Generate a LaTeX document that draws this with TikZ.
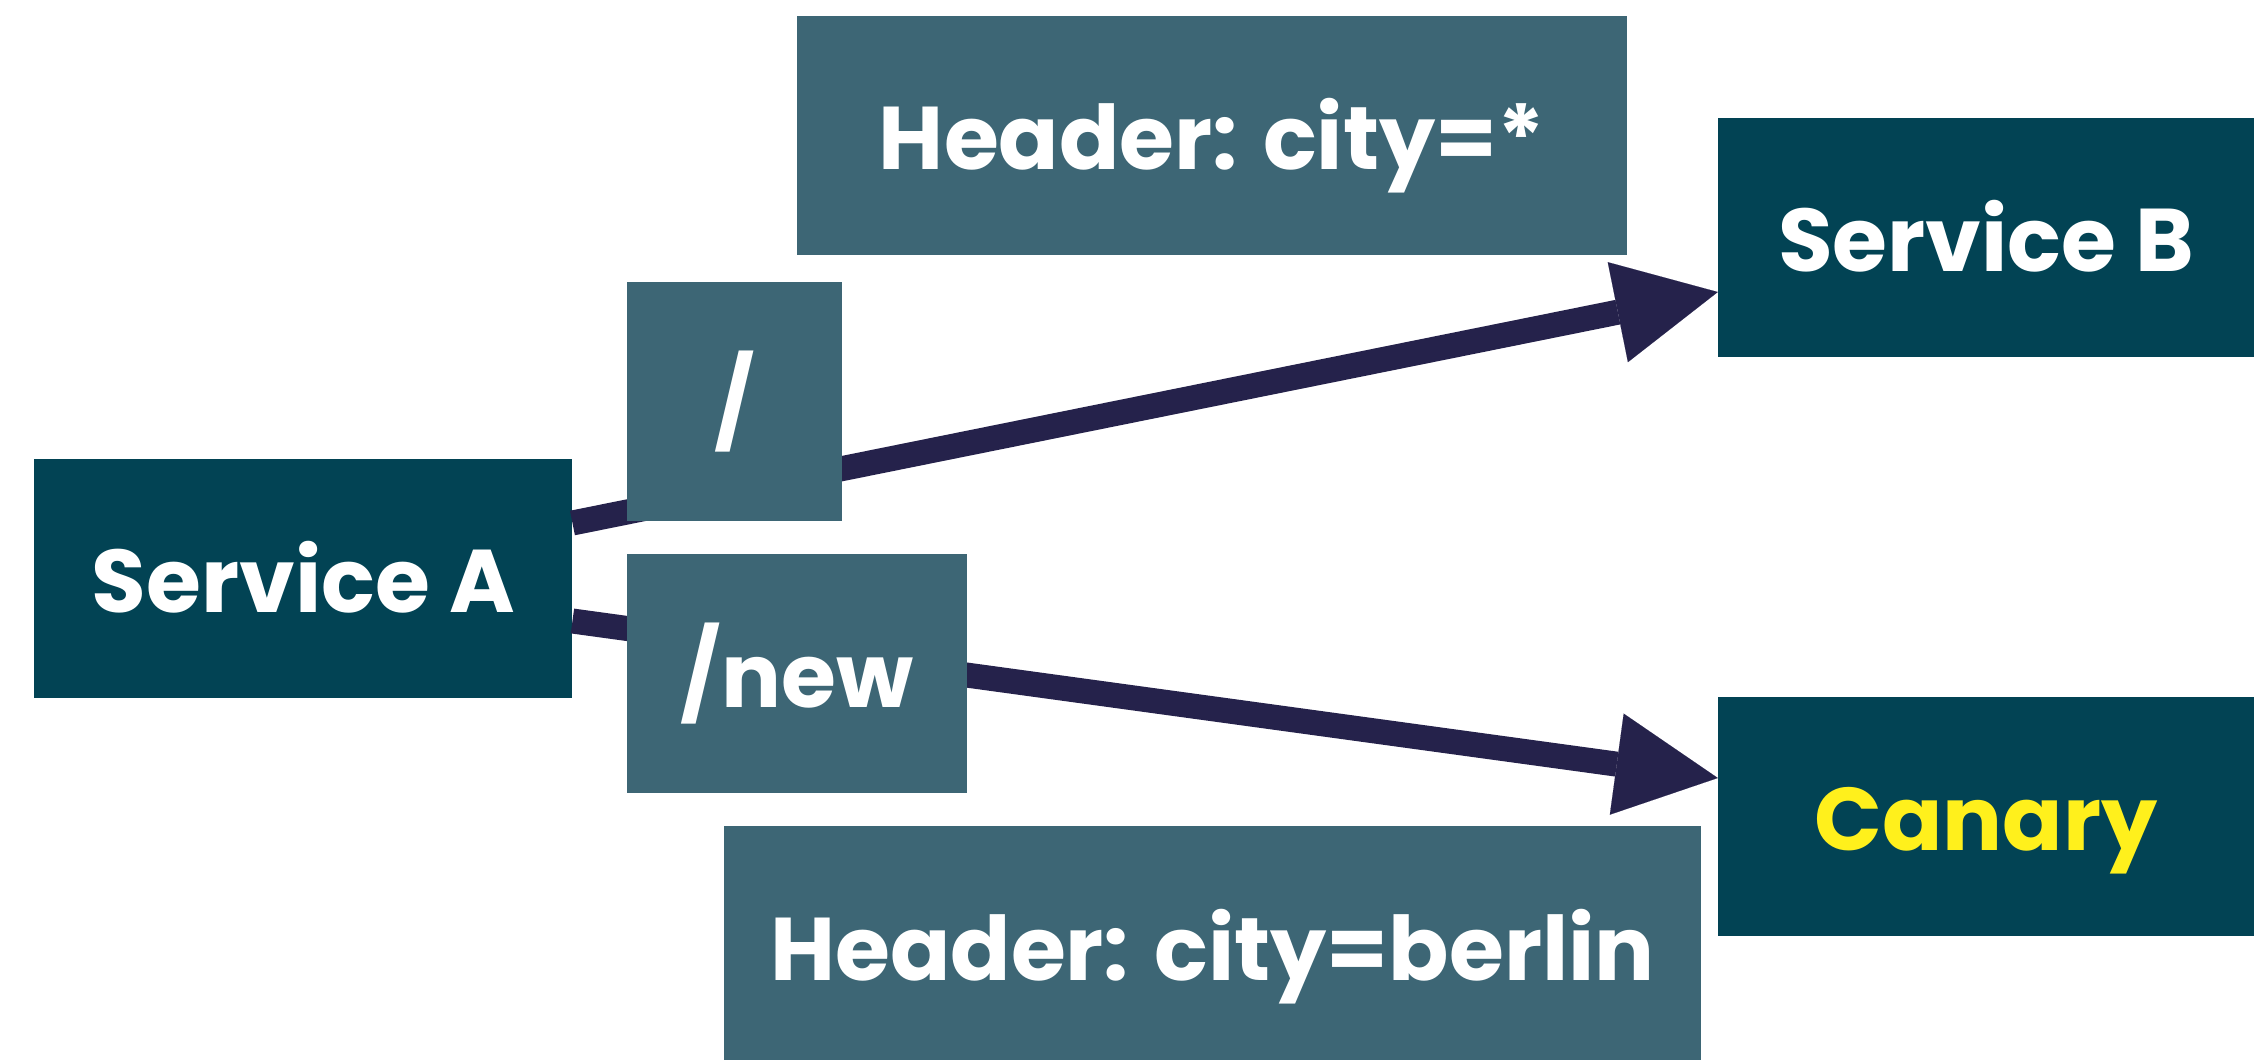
\documentclass[tikz,border=0pt]{standalone}
\usepackage{fontspec}
\setmainfont{Poppins}
\usetikzlibrary{arrows.meta}
\definecolor{svc}{HTML}{024354}
\definecolor{lbl}{HTML}{3D6675}
\definecolor{wire}{HTML}{25224B}
\definecolor{canaryyellow}{HTML}{FFF01C}
\begin{document}
\begin{tikzpicture}[x=1pt,y=-1pt,
  every node/.style={inner sep=0pt, font=\fontsize{89}{100}\selectfont\bfseries,
    text=white, text height=68pt, text depth=0pt},
  service/.style={fill=svc, minimum height=239pt},
  routelabel/.style={fill=lbl, minimum height=239pt},
  route/.style={draw=wire, line width=25pt,
    -{Triangle[length=102pt,width=102pt,line width=0.1pt]}}]
\useasboundingbox (0,0) rectangle (2254,1060);
\clip (0,0) rectangle (2254,1060);
\fill[white] (0,0) rectangle (2254,1060);

% services
\node[service, minimum width=538pt] (A) at (303.25,578.5) {Service A};
\node[service, minimum width=536pt] (B) at (1986,237.5) {Service B};
\node[service, minimum width=536pt, text=canaryyellow] (C) at (1986,816.5) {Canary};

% routes
\coordinate (a1) at ([yshift=55.5pt]A.east);
\coordinate (a2) at ([yshift=-42.5pt]A.east);
\coordinate (b1) at ([yshift=-54.5pt]B.west);
\coordinate (c1) at ([yshift=38.5pt]C.west);
\draw[route] (a1) -- (b1);
\draw[route] (a2) -- (c1);

% route labels
\node[routelabel, minimum width=215pt] (slash) at (734.5,401.5) {/};
\node[routelabel, minimum width=340pt] (new) at (797,673.5) {/new};
\node[routelabel, minimum width=830pt] (hdrany) at (1212,135.5) {Header: city=*};
\node[routelabel, minimum width=977pt, minimum height=240pt] (hdrberlin) at (1212.5,946) {Header: city=berlin};
\end{tikzpicture}
\end{document}
